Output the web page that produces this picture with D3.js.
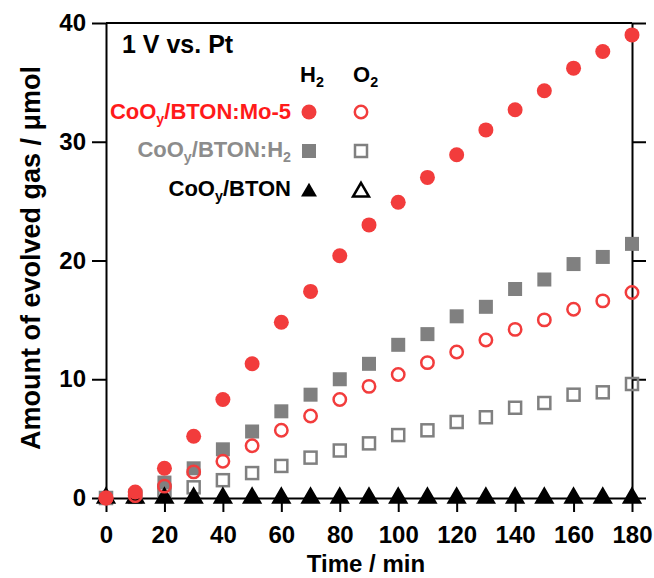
<!DOCTYPE html>
<html>
<head>
<meta charset="utf-8">
<script src="https://cdn.jsdelivr.net/npm/d3@7"></script>
<style>
  body { margin: 0; background: #fff; }
  svg text { font-family: "Liberation Sans", Arial, sans-serif; font-weight: bold; }
</style>
</head>
<body>
<div class="chart"></div>
<script>
// data (µmol vs min)
const time = [0, 10, 20, 30, 40, 50, 60, 70, 80, 90, 100, 110, 120, 130, 140, 150, 160, 170, 180];
const mo5H2 = [0, 0.5, 2.5, 5.2, 8.3, 11.3, 14.8, 17.4, 20.4, 23.0, 24.9, 27.0, 28.9, 31.0, 32.7, 34.3, 36.2, 37.6, 39.0];
const mo5O2 = [0, 0.2, 1.0, 2.2, 3.1, 4.4, 5.7, 6.9, 8.3, 9.4, 10.4, 11.4, 12.3, 13.3, 14.2, 15.0, 15.9, 16.6, 17.3];
const h2H2 = [0, 0.2, 1.3, 2.5, 4.1, 5.6, 7.3, 8.7, 10.0, 11.3, 12.9, 13.8, 15.3, 16.1, 17.6, 18.4, 19.7, 20.3, 21.4];
const h2O2 = [0, 0.1, 0.6, 0.9, 1.5, 2.1, 2.7, 3.4, 4.0, 4.6, 5.3, 5.7, 6.4, 6.8, 7.6, 8.0, 8.7, 8.9, 9.6];
const btonH2 = [0, 0, 0, 0, 0, 0, 0, 0, 0, 0, 0, 0, 0, 0, 0, 0, 0, 0, 0];
const btonO2 = [0, 0, 0, 0, 0, 0, 0, 0, 0, 0, 0, 0, 0, 0, 0, 0, 0, 0, 0];
const xTicks = [0, 20, 40, 60, 80, 100, 120, 140, 160, 180];
const yTicks = [0, 10, 20, 30, 40];

const red = "#f23c3c", gray = "#808080";
const width = 654, height = 578;

const x = d3.scaleLinear().domain([0, 180]).range([106, 632]);
const y = d3.scaleLinear().domain([0, 40]).range([498, 23]);

const svg = d3.select(".chart").append("svg")
    .attr("width", width)
    .attr("height", height);

// axes
function styleAxis(g) {
    g.selectAll("path, line").attr("stroke", "#000").attr("stroke-width", 2);
    g.selectAll("text").attr("fill", "#000").attr("font-size", 24).attr("font-family", null);
}
svg.append("g")
    .attr("transform", "translate(106,0)")
    .call(d3.axisLeft(y).tickValues(yTicks).tickSize(14).tickSizeOuter(0).tickPadding(6))
    .call(styleAxis);
svg.append("g")
    .attr("transform", "translate(632,0)")
    .call(d3.axisRight(y).tickValues(yTicks).tickSize(14).tickSizeOuter(0).tickFormat(""))
    .call(styleAxis);
svg.append("g")
    .attr("transform", "translate(0,498)")
    .call(d3.axisBottom(x).tickValues(xTicks).tickSize(14).tickSizeOuter(0).tickPadding(14))
    .call(styleAxis);
// top frame
svg.append("line")
    .attr("x1", x(0)).attr("x2", x(180))
    .attr("y1", y(40)).attr("y2", y(40))
    .attr("stroke", "#000").attr("stroke-width", 2);

// axis titles
svg.append("text")
    .attr("x", 366).attr("y", 572)
    .attr("text-anchor", "middle")
    .attr("font-size", 24)
    .text("Time / min");
svg.append("text")
    .attr("transform", "translate(40,258) rotate(-90)")
    .attr("text-anchor", "middle")
    .attr("font-size", 27)
    .text("Amount of evolved gas / μmol");

// markers
const tri = d3.symbol().type(d3.symbolTriangle).size(110);
function drawSeries(vals, kind, color, filled) {
    const g = svg.append("g");
    const sel = g.selectAll("." + kind).data(vals).join(kind == "circle" ? "circle" : kind == "square" ? "rect" : "path");
    if (kind == "circle") {
        sel.attr("cx", (d, i) => x(time[i])).attr("cy", d => y(d))
            .attr("r", filled ? 7.5 : 6.2);
    } else if (kind == "square") {
        const s = filled ? 14 : 12;
        sel.attr("x", (d, i) => x(time[i]) - s / 2).attr("y", d => y(d) - s / 2)
            .attr("width", s).attr("height", s);
    } else {
        sel.attr("d", tri).attr("transform", (d, i) => "translate(" + x(time[i]) + "," + y(d) + ")");
    }
    sel.attr("fill", filled ? color : "none")
        .attr("stroke", filled ? "none" : color)
        .attr("stroke-width", filled ? 0 : 2.5);
}
drawSeries(h2O2, "square", gray, false);
drawSeries(h2H2, "square", gray, true);
drawSeries(btonO2, "triangle", "#000", false);
drawSeries(btonH2, "triangle", "#000", true);
drawSeries(mo5O2, "circle", red, false);
drawSeries(mo5H2, "circle", red, true);

// legend
svg.append("text")
    .attr("x", 122).attr("y", 53)
    .attr("font-size", 25)
    .text("1 V vs. Pt");

function subText(xp, yp, parts, color, size, anchor) {
    const t = svg.append("text")
        .attr("x", xp).attr("y", yp)
        .attr("font-size", size)
        .attr("fill", color)
        .attr("text-anchor", anchor);
    parts.forEach(p => {
        if (p.sub) {
            t.append("tspan").attr("font-size", size * 0.65).attr("dy", 5).text(p.sub);
        } else {
            t.append("tspan").attr("dy", p.after ? -5 : 0).text(p.t);
        }
    });
    return t;
}
subText(300, 82, [{t: "H"}, {sub: "2"}], "#000", 22, "start");
subText(353, 82, [{t: "O"}, {sub: "2"}], "#000", 22, "start");
subText(291, 119, [{t: "CoO"}, {sub: "y"}, {t: "/BTON:Mo-5", after: true}], "#ff1a1a", 22, "end");
subText(291, 157, [{t: "CoO"}, {sub: "y"}, {t: "/BTON:H", after: true}, {sub: "2"}], "#8c8c8c", 22, "end");
subText(291, 196, [{t: "CoO"}, {sub: "y"}, {t: "/BTON", after: true}], "#000", 22, "end");

const lg = svg.append("g");
lg.append("circle").attr("cx", 309).attr("cy", 112).attr("r", 7.5).attr("fill", red);
lg.append("circle").attr("cx", 361).attr("cy", 112).attr("r", 6.2).attr("fill", "none").attr("stroke", red).attr("stroke-width", 2.5);
lg.append("rect").attr("x", 302).attr("y", 144).attr("width", 14).attr("height", 14).attr("fill", gray);
lg.append("rect").attr("x", 355).attr("y", 145).attr("width", 12).attr("height", 12).attr("fill", "none").attr("stroke", gray).attr("stroke-width", 2.5);
lg.append("path").attr("d", tri).attr("transform", "translate(309,192)").attr("fill", "#000");
lg.append("path").attr("d", tri).attr("transform", "translate(361,192)").attr("fill", "none").attr("stroke", "#000").attr("stroke-width", 2.5);
</script>
</body>
</html>
